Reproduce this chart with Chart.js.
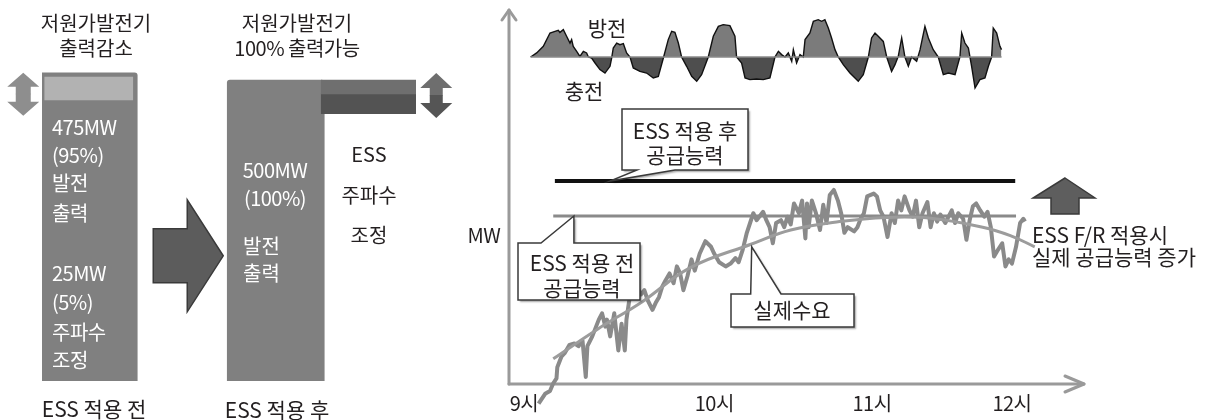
<!DOCTYPE html>
<html><head><meta charset="utf-8">
<script src="https://cdn.jsdelivr.net/npm/chart.js@4.4.1/dist/chart.umd.min.js"></script>
<style>
html,body{margin:0;padding:0;background:#fff;width:1215px;height:420px;overflow:hidden}
#wrap{position:relative;width:1215px;height:420px}
canvas{position:absolute;top:0}
#left{left:0}
#right{left:460px}
</style></head><body>
<div id="wrap"><canvas id="left" width="460" height="420"></canvas><canvas id="right" width="755" height="420"></canvas></div>
<script>
// ---------- LEFT: bar comparison (MW) ----------
const barCategories = ['ESS 적용 전', '', 'ESS 적용 후', 'ESS 주파수 조정'];
const generatorOutput = [[0, 512], null, [0, 500], null];
const generatorReserve = [[467, 505], null, null, null];
const essUpBand = [null, null, null, [477, 500]];
const essDownBand = [null, null, null, [444, 477]];

// ---------- RIGHT: time (h) vs MW ----------
const timeTickValues = [9, 10.17, 11.14, 12];
const timeTickLabels = ['9시', '10시', '11시', '12시'];
const supplyBeforeESS = [[9.18, 475], [12.025, 475]];
const supplyAfterESS = [[9.19, 500], [12.02, 500]];
const actualDemand = [
 [9.09,341],[9.13,348],[9.16,350],[9.18,355.5],[9.20,359],[9.205,367],[9.23,374.5],[9.25,377],[9.28,383],[9.31,384],
 [9.335,382],[9.36,386],[9.38,360],[9.39,382],[9.42,389],[9.46,401],[9.48,405.5],[9.50,396],[9.51,401],[9.53,389],
 [9.555,405.5],[9.58,379],[9.60,398],[9.62,379],[9.63,401],[9.65,417],[9.68,422],[9.70,423],[9.72,419],[9.74,422],
 [9.76,415],[9.79,408],[9.81,413],[9.83,417],[9.85,424.5],[9.87,429],[9.895,434],[9.92,427],[9.94,439],[9.96,434],
 [9.98,422],[10.005,432],[10.03,444],[10.05,436],[10.08,448],[10.115,457],[10.15,453],[10.17,448],[10.20,442],[10.24,439],
 [10.27,441],[10.30,445],[10.32,442],[10.345,451],[10.37,463],[10.39,470],[10.41,477],[10.43,472],[10.47,478],[10.49,472],
 [10.51,467],[10.53,455.5],[10.55,470],[10.58,472],[10.60,467],[10.62,474.5],[10.64,469],[10.66,484],[10.69,477],[10.71,486],
 [10.73,459],[10.74,484],[10.75,467],[10.77,486],[10.795,477],[10.82,465],[10.84,483],[10.86,470],[10.88,490],[10.905,493.6],
 [10.93,486],[10.95,477],[10.97,463],[10.99,467],[11.03,464],[11.05,467],[11.07,473],[11.09,477],[11.11,489],[11.15,491],
 [11.17,489],[11.19,479],[11.21,474.5],[11.235,460],[11.26,477],[11.28,470],[11.30,486],[11.32,479],[11.34,489],[11.37,479],
 [11.39,474.5],[11.41,486],[11.43,467],[11.45,477],[11.48,485],[11.50,467],[11.52,477],[11.54,471],[11.56,476],[11.59,470],
 [11.61,474.5],[11.63,479],[11.65,470],[11.67,477],[11.70,473],[11.72,458],[11.74,472],[11.76,482],[11.78,484],[11.805,479],
 [11.83,474.5],[11.85,478],[11.87,467],[11.89,446],[11.915,451],[11.94,455.5],[11.96,439],[11.98,444],[12.00,441],[12.025,453],
 [12.05,470],[12.07,473],[12.08,471]
];
const demandTrend = [
 [9.18,373],[9.45,394],[9.73,414],[10.02,438],[10.40,455],[10.64,465],[10.94,471],[11.23,474],[11.49,473.5],[11.82,467],[11.99,461],[12.14,453]
];
// ESS power: + discharge (방전), - charge (충전), MW
const essPower = [
 [9.041,0],[9.078,2.7],[9.119,7.1],[9.160,16.0],[9.191,17.1],[9.211,17.8],[9.221,16.4],[9.242,18.2],[9.262,13.8],[9.283,9.3],
 [9.293,11.6],[9.303,7.1],[9.324,3.8],[9.344,0.4],[9.365,3.8],[9.385,2.7],[9.396,0],[9.416,-0.7],[9.437,-4.0],[9.467,-8.4],
 [9.498,-10.7],[9.529,-6.2],[9.539,-0.7],[9.549,6.0],[9.570,9.3],[9.590,8.2],[9.611,8.9],[9.631,2.7],[9.652,0],[9.672,-7.3],
 [9.713,-9.6],[9.754,-10.7],[9.795,-14.0],[9.826,-12.9],[9.857,-0.7],[9.887,11.6],[9.908,17.1],[9.928,16.4],[9.949,9.3],[9.969,0],
 [10.000,-6.2],[10.031,-12.9],[10.062,-16.2],[10.092,-11.8],[10.133,0],[10.164,13.8],[10.195,20.4],[10.225,21.6],[10.266,20.9],[10.297,13.8],
 [10.307,0],[10.338,-4.0],[10.359,-14.0],[10.389,-15.1],[10.430,-14.7],[10.471,-15.1],[10.512,-14.0],[10.543,0],[10.564,3.8],[10.584,1.6],
 [10.605,0],[10.625,2.7],[10.646,-2.9],[10.656,4.9],[10.676,-4.0],[10.697,1.6],[10.717,0],[10.728,11.6],[10.758,16.0],[10.779,23.8],
 [10.809,24.9],[10.830,23.8],[10.850,24.9],[10.871,19.3],[10.891,12.7],[10.912,4.9],[10.932,0],[10.963,-5.1],[11.004,-10.7],[11.055,-16.2],
 [11.086,-11.8],[11.117,0],[11.137,12.7],[11.158,16.0],[11.178,13.8],[11.209,10.4],[11.230,0],[11.260,-9.6],[11.281,-5.1],[11.301,0.4],
 [11.322,12.7],[11.342,0],[11.363,-6.2],[11.383,0],[11.414,-2.9],[11.435,4.9],[11.465,20.4],[11.486,12.7],[11.516,4.9],[11.547,0],
 [11.578,-11.8],[11.609,-10.7],[11.650,-11.8],[11.680,0],[11.691,16.0],[11.711,9.3],[11.732,6.0],[11.752,-6.2],[11.773,-20.7],[11.803,-15.1],
 [11.834,-14.0],[11.855,-6.2],[11.875,0],[11.885,19.3],[11.906,16.0],[11.926,7.1],[11.936,4.9]
];
const essBaseline = [[9.041,0],[11.936,0]];

const FONT = '"Noto Sans CJK KR","Noto Sans CJK SC",sans-serif';
const pts = a => a.map(p => ({x: p[0], y: p[1]}));

function text(ctx, s, x, y, size, color, align, spacing) {
  ctx.save();
  ctx.font = size + 'px ' + FONT;
  ctx.fillStyle = color;
  ctx.textAlign = align || 'center';
  ctx.textBaseline = 'middle';
  try { ctx.letterSpacing = (spacing || 0) + 'px'; } catch (e) {}
  ctx.fillText(s, x, y);
  ctx.restore();
}

function doubleArrow(ctx, cx, top, bottom, headW, headH, shaftW, cTop, cBot) {
  const mid = (top + bottom) / 2;
  ctx.save();
  ctx.beginPath();
  ctx.moveTo(cx, top);
  ctx.lineTo(cx + headW / 2, top + headH);
  ctx.lineTo(cx + shaftW / 2, top + headH);
  ctx.lineTo(cx + shaftW / 2, mid);
  ctx.lineTo(cx - shaftW / 2, mid);
  ctx.lineTo(cx - shaftW / 2, top + headH);
  ctx.lineTo(cx - headW / 2, top + headH);
  ctx.closePath();
  ctx.fillStyle = cTop; ctx.fill();
  ctx.beginPath();
  ctx.moveTo(cx, bottom);
  ctx.lineTo(cx + headW / 2, bottom - headH);
  ctx.lineTo(cx + shaftW / 2, bottom - headH);
  ctx.lineTo(cx + shaftW / 2, mid - 0.5);
  ctx.lineTo(cx - shaftW / 2, mid - 0.5);
  ctx.lineTo(cx - shaftW / 2, bottom - headH);
  ctx.lineTo(cx - headW / 2, bottom - headH);
  ctx.closePath();
  ctx.fillStyle = cBot; ctx.fill();
  ctx.restore();
}

const leftDecor = {
  id: 'leftDecor',
  afterDatasetsDraw(chart) {
    const ctx = chart.ctx;
    const xs = chart.scales.x, ys = chart.scales.y;
    const before = chart.getDatasetMeta(3).data[0];
    const ess = chart.getDatasetMeta(0).data[3];
    // double arrows
    const bl = before.x - before.width / 2;
    doubleArrow(ctx, bl - 17, before.y, before.y + 43, 32, 14, 15, '#8e8e8e', '#8e8e8e');
    const er = ess.x + ess.width / 2;
    doubleArrow(ctx, er + 19, ess.y - 7, ess.y + 38, 32, 15, 13, '#6e6e6e', '#555555');
    // big arrow at empty category
    const cx = xs.getPixelForValue(1), cy = ys.getPixelForValue(208);
    ctx.save();
    ctx.beginPath();
    ctx.moveTo(cx - 29, cy - 27);
    ctx.lineTo(cx + 5, cy - 27);
    ctx.lineTo(cx + 5, cy - 56);
    ctx.lineTo(cx + 41, cy);
    ctx.lineTo(cx + 5, cy + 56);
    ctx.lineTo(cx + 5, cy + 27);
    ctx.lineTo(cx - 29, cy + 27);
    ctx.closePath();
    ctx.fillStyle = '#5c5c5c'; ctx.fill();
    ctx.lineWidth = 1.5; ctx.strokeStyle = '#3a3a3a'; ctx.stroke();
    ctx.restore();
    // titles
    const dark = '#231f20';
    text(ctx, '저원가발전기', 96, 23, 20, dark);
    text(ctx, '출력감소', 96, 48, 20, dark);
    text(ctx, '저원가발전기', 297, 23, 20, dark);
    text(ctx, '100% 출력가능', 297, 48, 20, dark, 'center', -0.5);
    // before bar text
    const w = '#ffffff';
    const lines1 = [['475MW',127],['(95%)',155],['발전',183],['출력',213],['25MW',273],['(5%)',302],['주파수',332],['조정',360]];
    lines1.forEach(l => text(ctx, l[0], 52, l[1], 20, w, 'left', -0.5));
    // after bar text
    text(ctx, '500MW', 275, 170, 20, w, 'center', -0.5);
    text(ctx, '(100%)', 275, 198, 20, w, 'center', -0.5);
    text(ctx, '발전', 243, 246, 20, w, 'left');
    text(ctx, '출력', 243, 273, 20, w, 'left');
    // ESS text
    text(ctx, 'ESS', 369, 154, 20, dark);
    text(ctx, '주파수', 369, 195, 20, dark);
    text(ctx, '조정', 369, 235, 20, dark);
    // bottom labels
    text(ctx, barCategories[0], 94, 409, 21, dark);
    text(ctx, barCategories[2], 277, 410, 21, dark);
  }
};

function callout(ctx, path, tx, lines, cy0, dy) {
  ctx.save();
  ctx.beginPath();
  path.forEach((p, i) => i ? ctx.lineTo(p[0], p[1]) : ctx.moveTo(p[0], p[1]));
  ctx.closePath();
  ctx.shadowColor = 'rgba(0,0,0,0.35)';
  ctx.shadowOffsetX = 2; ctx.shadowOffsetY = 2; ctx.shadowBlur = 2;
  ctx.fillStyle = '#ffffff'; ctx.fill();
  ctx.shadowColor = 'transparent';
  ctx.lineWidth = 1.5; ctx.strokeStyle = '#3a3a3a'; ctx.lineJoin = 'miter'; ctx.stroke();
  ctx.restore();
  lines.forEach((s, i) => text(ctx, s, tx, cy0 + i * dy, 21, '#231f20'));
}

const rightAxes = {
  id: 'rightAxes',
  beforeDatasetsDraw(chart) {
    const ctx = chart.ctx, a = chart.chartArea;
    const xs = chart.scales.x;
    const x0 = xs.getPixelForValue(xs.min), x1 = xs.getPixelForValue(xs.max);
    const y0 = a.bottom;
    ctx.save();
    ctx.strokeStyle = '#9a9a9a'; ctx.lineWidth = 3; ctx.lineCap = 'round'; ctx.lineJoin = 'round';
    ctx.beginPath(); ctx.moveTo(x0, y0); ctx.lineTo(x0, 10); ctx.stroke();
    ctx.beginPath(); ctx.moveTo(x0 - 7, 20); ctx.lineTo(x0, 10); ctx.lineTo(x0 + 7, 20); ctx.stroke();
    ctx.beginPath(); ctx.moveTo(x0, y0); ctx.lineTo(x1 - 1, y0); ctx.stroke();
    ctx.beginPath(); ctx.moveTo(x1 - 20, y0 - 8); ctx.lineTo(x1 - 1, y0); ctx.lineTo(x1 - 20, y0 + 8); ctx.stroke();
    ctx.restore();
  },
  afterDatasetsDraw(chart) {
    const ctx = chart.ctx;
    const xs = chart.scales.x, ys = chart.scales.y;
    const dark = '#231f20';
    timeTickValues.forEach((v, i) => text(ctx, timeTickLabels[i], xs.getPixelForValue(v), 403, 20, dark, 'center', -0.5));
    text(ctx, 'MW', 24, 235, 20, dark, 'center', -0.5);
    text(ctx, '방전', 147, 28, 21, dark);
    text(ctx, '충전', 124, 91, 21, dark);
    // after-ESS supply callout (tip on black line)
    const t1x = xs.getPixelForValue(9.529), t1y = ys.getPixelForValue(supplyAfterESS[0][1]);
    callout(ctx, [[162,109],[288,109],[288,170],[215,170],[t1x,t1y],[177,170],[162,170]], 225, ['ESS 적용 후','공급능력'], 131, 24);
    // before-ESS supply callout (tip on gray line)
    const t2x = xs.getPixelForValue(9.307), t2y = ys.getPixelForValue(supplyBeforeESS[0][1]);
    callout(ctx, [[58,243],[81,243],[t2x,t2y],[t2x,243],[180,243],[180,300],[58,300]], 122, ['ESS 적용 전','공급능력'], 263, 25);
    // demand callout (tip on trend)
    const t3x = xs.getPixelForValue(10.40), t3y = ys.getPixelForValue(453);
    callout(ctx, [[271,294],[t3x - 1,294],[t3x,t3y],[321,294],[394,294],[394,327],[271,327]], 332, ['실제수요'], 310, 0);
    // up arrow
    ctx.save();
    ctx.beginPath();
    ctx.moveTo(605,178); ctx.lineTo(635,198); ctx.lineTo(619,198); ctx.lineTo(619,214);
    ctx.lineTo(591,214); ctx.lineTo(591,198); ctx.lineTo(573,198); ctx.closePath();
    ctx.fillStyle = '#5e5e5e'; ctx.fill();
    ctx.lineWidth = 1.5; ctx.strokeStyle = '#3a3a3a'; ctx.stroke();
    ctx.restore();
    text(ctx, 'ESS F/R 적용시', 572, 235, 21, dark, 'left');
    text(ctx, '실제 공급능력 증가', 572, 257, 21, dark, 'left');
  }
};

function build() {
  new Chart(document.getElementById('left'), {
    type: 'bar',
    data: { labels: barCategories, datasets: [
      { label: 'ESS 상향', data: essUpBand, backgroundColor: '#6f6f6f', grouped: false, barThickness: 96, order: 1 },
      { label: 'ESS 하향', data: essDownBand, backgroundColor: '#535353', grouped: false, barThickness: 96, order: 1 },
      { label: '주파수 조정', data: generatorReserve, backgroundColor: '#b2b2b2', grouped: false, barThickness: 88, order: 0 },
      { label: '발전 출력', data: generatorOutput, backgroundColor: '#808080', grouped: false, barThickness: 97, borderRadius: 3, order: 2 }
    ]},
    options: {
      responsive: false, animation: false, devicePixelRatio: 1,
      layout: { padding: { left: 42, right: 44, top: 68, bottom: 39 } },
      scales: { x: { display: false, offset: true }, y: { display: false, min: 0, max: 520 } },
      plugins: { legend: { display: false }, tooltip: { enabled: false } }
    },
    plugins: [leftDecor]
  });

  new Chart(document.getElementById('right'), {
    type: 'line',
    data: { datasets: [
      { label: '실제수요 추세', data: pts(demandTrend), borderColor: '#9c9c9c', borderWidth: 3, tension: 0.4, pointRadius: 0, order: 1 },
      { label: '실제수요', data: pts(actualDemand), borderColor: '#8a8a8a', borderWidth: 4, tension: 0, pointRadius: 0, clip: false, order: 2, borderJoinStyle: 'round' },
      { label: 'ESS 적용 전 공급능력', data: pts(supplyBeforeESS), borderColor: '#8a8a8a', borderWidth: 3, pointRadius: 0, order: 3 },
      { label: 'ESS 적용 후 공급능력', data: pts(supplyAfterESS), borderColor: '#111111', borderWidth: 4, pointRadius: 0, order: 4 },
      { label: '기준', data: pts(essBaseline), yAxisID: 'yEss', borderColor: '#8a8a8a', borderWidth: 1.5, pointRadius: 0, order: 5 },
      { label: 'ESS 충방전', data: pts(essPower), yAxisID: 'yEss', borderColor: '#111111', borderWidth: 1.4, pointRadius: 0, tension: 0,
        fill: { target: { value: 0 }, above: '#7b7b7b', below: '#4e4e4e' }, order: 6 }
    ]},
    options: {
      responsive: false, animation: false, devicePixelRatio: 1,
      layout: { padding: { left: 49, right: 130, top: 6, bottom: 36 } },
      scales: {
        x: { type: 'linear', min: 8.908, max: 12.449, display: false },
        y: { min: 355, max: 625, display: false },
        yEss: { min: -218, max: 34, display: false }
      },
      plugins: { legend: { display: false }, tooltip: { enabled: false } }
    },
    plugins: [rightAxes]
  });
}

const fontReady = (document.fonts && document.fonts.load)
  ? Promise.all([document.fonts.load('20px "Noto Sans CJK KR"', '가나다')]).catch(() => {})
  : Promise.resolve();
fontReady.then(build, build);
</script>
</body></html>
